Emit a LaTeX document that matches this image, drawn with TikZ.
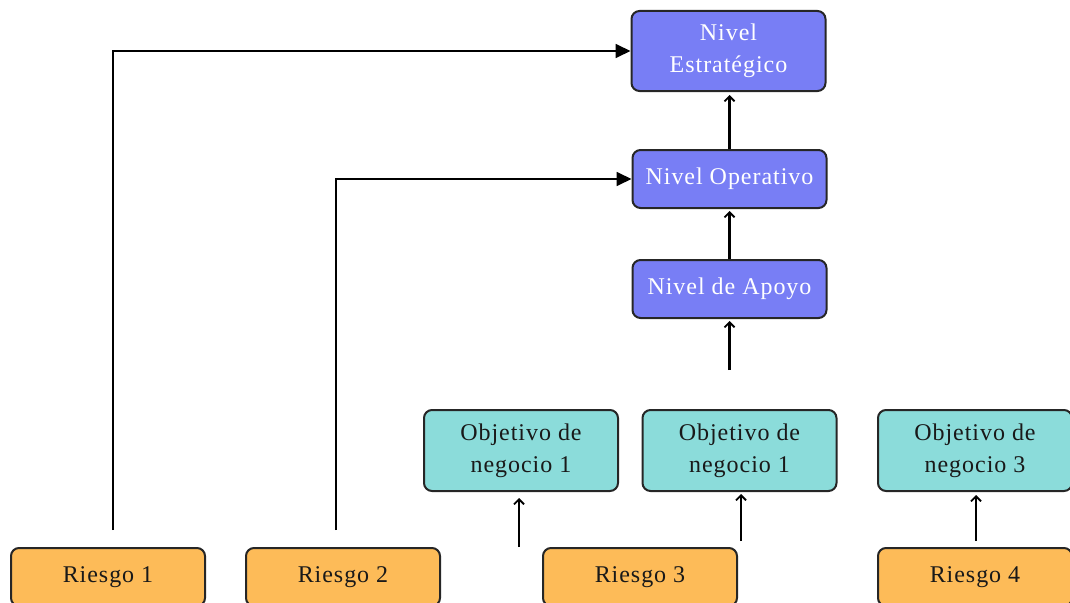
\documentclass[tikz,border=0pt]{standalone}
\usepackage{fontspec}
\setmainfont{Liberation Serif}[LetterSpace=4]
\usetikzlibrary{arrows.meta}
\definecolor{nivelfill}{RGB}{120,126,245}
\definecolor{objfill}{RGB}{139,220,218}
\definecolor{riesgofill}{RGB}{253,187,88}
\definecolor{txtdark}{RGB}{25,25,25}
\tikzset{
  box/.style={draw=black!85, line width=2pt, rounded corners=8pt, minimum width=194pt,
    align=center, font=\fontsize{24}{32}\selectfont, inner sep=0pt},
  nivel/.style={box, fill=nivelfill, text=white},
  objbox/.style={box, fill=objfill, text=txtdark, minimum height=81pt},
  riesgo/.style={box, fill=riesgofill, text=txtdark, minimum height=58pt},
  uparrow/.style={line width=2.2pt, -{Straight Barb[length=5pt,width=10pt,line width=1.8pt]}},
  bigarrow/.style={line width=1.8pt, -{Triangle[length=15pt,width=14pt]}}
}
\begin{document}
\begin{tikzpicture}[x=1pt,y=-1pt]
\useasboundingbox (0,0) rectangle (1070,602);
\clip (0,0) rectangle (1070,602);
% levels
\node[nivel, minimum height=80pt] (est) at (728.5,51) {Nivel\\Estratégico};
\node[nivel, minimum height=58pt] (ope) at (729.5,179) {Nivel Operativo};
\node[nivel, minimum height=58pt] (apo) at (729.5,289) {Nivel de Apoyo};
% business objectives
\node[objbox] (obj1) at (521,450.5) {Objetivo de\\negocio 1};
\node[objbox] (obj2) at (739.5,450.5) {Objetivo de\\negocio 1};
\node[objbox] (obj3) at (975,450.5) {Objetivo de\\negocio 3};
% risks
\node[riesgo] (r1) at (108,577) {Riesgo 1};
\node[riesgo] (r2) at (343,577) {Riesgo 2};
\node[riesgo] (r3) at (640,577) {Riesgo 3};
\node[riesgo] (r4) at (975,577) {Riesgo 4};
% free ends of connectors
\coordinate (r1top) at (113,530);
\coordinate (r2top) at (336,530);
\coordinate (apoin) at (729.5,370);
\coordinate (o1in) at (519,547);
\coordinate (o2in) at (741,541);
\coordinate (o3in) at (976,541);
% connectors
\draw[bigarrow] (r1top) |- (est.west);
\draw[bigarrow] (r2top) |- (ope.west);
\draw[uparrow, shorten >=3pt] (ope.north) -- (ope.north |- est.south);
\draw[uparrow, shorten >=2pt] (apo.north) -- (ope.south);
\draw[uparrow, shorten >=2pt] (apoin) -- (apo.south);
\draw[uparrow, shorten >=6pt] (o1in) -- (o1in |- obj1.south);
\draw[uparrow, shorten >=2pt] (o2in) -- (o2in |- obj2.south);
\draw[uparrow, shorten >=3pt] (o3in) -- (o3in |- obj3.south);
\end{tikzpicture}
\end{document}
